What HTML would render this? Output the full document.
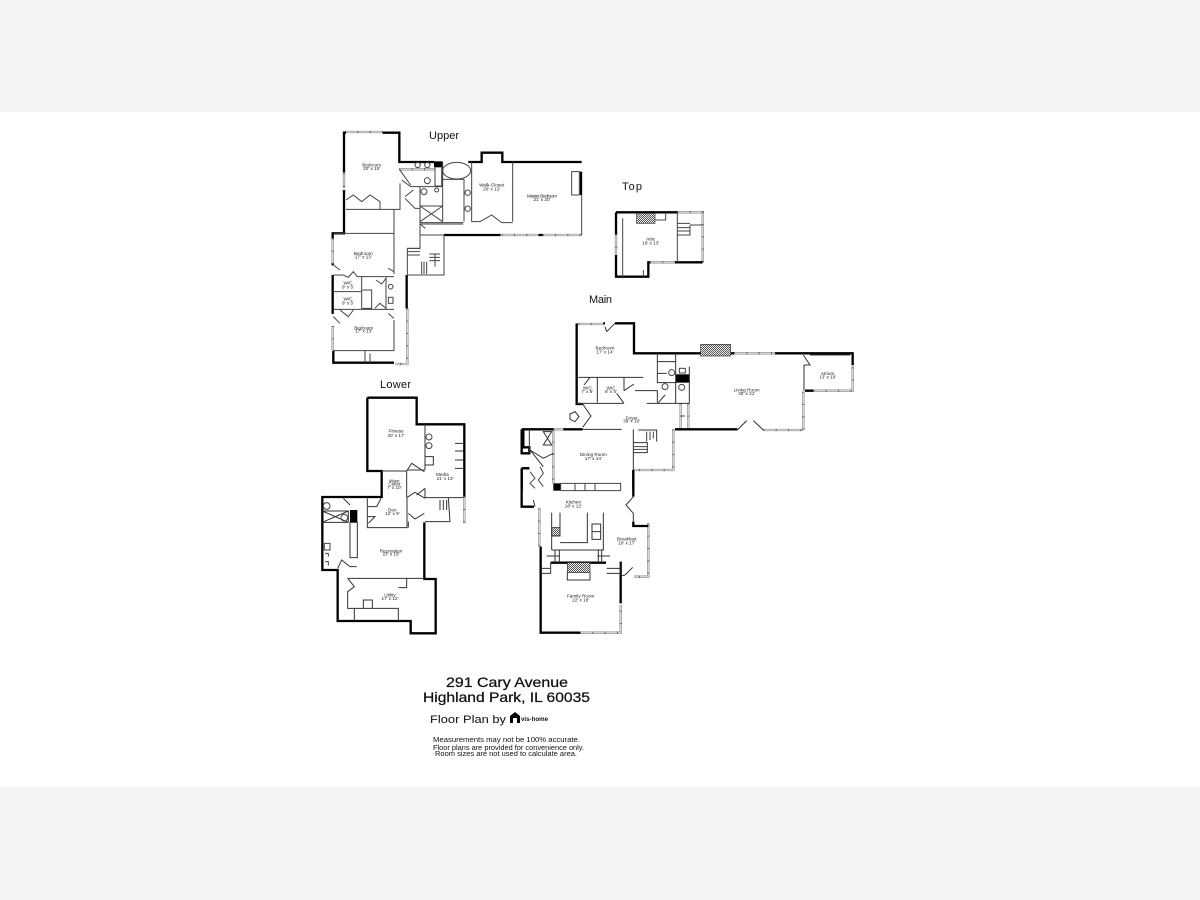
<!DOCTYPE html>
<html><head><meta charset="utf-8"><style>
html,body{margin:0;padding:0;background:#f4f4f6}
svg{display:block}
text{font-family:"Liberation Sans",sans-serif;fill:#111}
.t{fill:none;stroke:#000;stroke-width:7;stroke-linejoin:miter}
.n{fill:none;stroke:#444;stroke-width:3}
.d{fill:none;stroke:#333;stroke-width:3}
.w{fill:none;stroke:#888;stroke-width:7}
.wi{fill:none;stroke:#ddd;stroke-width:3.5}
.wt{fill:none;stroke:#666;stroke-width:7;stroke-dasharray:3 34}
.l{font-size:14px;text-anchor:middle;fill:#222}
.a{font-size:14px;stroke:#111;stroke-width:.25}
</style></head><body>
<svg width="1200" height="900" viewBox="0 0 1200 900" xmlns="http://www.w3.org/2000/svg">
<defs><pattern id="h" width="6" height="6" patternUnits="userSpaceOnUse"><rect width="6" height="6" fill="#eee"/><rect width="3" height="3" fill="#555"/><rect x="3" y="3" width="3" height="3" fill="#555"/></pattern>
<path id="wu" d="M75 36H188M72 160V205M38 355V430M38 618V690M262 565V732H225M545 345H655M668 345H785M238 148H345"/>
<path id="wp" d="M232 112H308V262M150 262H225M48 178V240"/>
<path id="wm" d="M205 102H280M672 190H795M760 420H880M880 305V420M910 302H1028V225M512 340V415M535 340V415M130 418H160M130 418V580M490 418V540H370"/>
<path id="wk" d="M88 205V320M415 250V410H372M210 578H332V495"/>
<path id="wl" d="M448 365V445"/>
</defs>
<rect width="1200" height="900" fill="#f4f4f6"/>
<rect y="112" width="1200" height="675" fill="#fff"/>

<text x="429" y="139" font-size="11" textLength="30">Upper</text>
<text x="622" y="190" font-size="11" textLength="20">Top</text>
<text x="589" y="303" font-size="11" textLength="23">Main</text>
<text x="380" y="388" font-size="11" textLength="31">Lower</text>

<!-- UPPER -->
<g transform="translate(320,120) scale(.33333)">
<use href="#wu" class="w"/><use href="#wu" class="wi"/><use href="#wu" class="wt"/>
<path class="t" d="M72 158V38H78M188 38H238V126H342M445 126H485V98H547V126H785M783 155V225M372 345H542M72 210V340H38V355M38 430V436M38 465V582M40 692V728H222M260 465V565M655 345H668"/>
<rect x="342" y="124" width="26" height="18" fill="#000"/>
<path class="n" d="M785 225V345M755 155V225H778V155ZM240 190V268H78M78 240L100 225L125 245L150 225L180 245V268M368 125V305M300 200H368M300 200V308H430M300 258H368V305M300 258L368 305M368 258L300 305M368 178H432V305M455 125V305H480L515 285L545 308H578M578 125V305M345 142V198H365V142M238 148L272 195M245 180L272 200H300M255 230L280 210M255 235L285 265H300M300 345H372V465H262V385H300V345M300 345V312L316 325M300 312H430M222 268V340M240 190V268M40 340H222V462M222 600V692H40M40 435L60 450M40 465H70L85 472L100 455L112 470H200M40 515H125M40 568H200M125 470V568M198 470V568H222M222 470H198M127 510H155V565H127M168 480L185 492L198 475M165 565L180 550L198 565M205 445L222 455M205 580L222 595M60 610L40 590M60 570L85 590L100 570M135 692V728M150 700V728M432 178V305"/>
<ellipse class="n" cx="410" cy="152" rx="42" ry="25"/>
<circle class="n" cx="293" cy="135" r="8"/><circle class="n" cx="322" cy="135" r="8"/><circle class="n" cx="322" cy="182" r="9"/><circle class="n" cx="312" cy="215" r="9"/><circle class="n" cx="350" cy="210" r="6"/><circle class="n" cx="443" cy="218" r="8"/><circle class="n" cx="443" cy="266" r="8"/><circle class="n" cx="212" cy="500" r="7"/><rect class="n" x="205" y="532" width="14" height="18"/>
<path class="n" d="M262 385H300M262 395H300M262 405H300M305 425V462M312 425V462M320 425V462M328 402H360M328 412H360M328 422H360M345 400V440"/>
<text class="l" x="155" y="139">Bedroom</text><text class="l" x="155" y="150">20' x 15'</text>
<text class="l" x="515" y="199">Walk-Closet</text><text class="l" x="515" y="211">20' x 12'</text>
<text class="l" x="666" y="232" textLength="90">Master Bedroom</text><text class="l" x="666" y="243">21' x 20'</text>
<text class="l" x="130" y="405">Bedroom</text><text class="l" x="130" y="415">17' x 13'</text>
<text class="l" x="84" y="494">WIC</text><text class="l" x="84" y="506">9' x 5'</text>
<text class="l" x="84" y="541">WIC</text><text class="l" x="84" y="553">9' x 5'</text>
<text class="l" x="131" y="628">Bedroom</text><text class="l" x="131" y="638">17' x 13'</text>
</g>

<!-- TOP -->
<g transform="translate(600,175) scale(.33333)">
<use href="#wp" class="w"/><use href="#wp" class="wi"/><use href="#wp" class="wt"/>
<path class="t" d="M48 112H232M48 178V112M48 240V305H145V262H150M225 262H308"/>
<rect x="110" y="115" width="55" height="30" fill="url(#h)" stroke="#333" stroke-width="2"/>
<path class="n" d="M68 130V310M165 135H197V112M232 112V262M232 145H270M270 150H308M270 150V180H232M232 158H270M232 168H270M130 285V305"/>
<text class="l" x="152" y="196">Attic</text><text class="l" x="152" y="208">19' x 13'</text>
</g>

<!-- MAIN -->
<g transform="translate(510,290) scale(.33333)">
<use href="#wm" class="w"/><use href="#wm" class="wi"/><use href="#wm" class="wt"/>
<path class="t" d="M280 100H285M315 100H372V190H572M662 190H672M795 190H1028V225M200 100V342H218M160 418H218M495 418H682M885 302H910M35 418H130M35 418V490H58V472H40V418M35 535V600M35 535H58M370 540V600"/>
<rect x="572" y="163" width="90" height="35" fill="url(#h)" stroke="#333" stroke-width="2"/>
<rect x="497" y="253" width="42" height="25" fill="#000"/>
<rect x="130" y="580" width="22" height="22" fill="#000"/>
<path class="n" d="M152 580H332V602H152ZM195 580V602M225 580V602M255 580V602"/>
<path class="d" d="M290 125L315 100M285 110L290 125M218 342L243 378L218 412M682 420L710 392M730 392L760 420M218 418H335M205 262H400M262 262V338M342 262V302M375 302H442V338M340 340H200M410 340H538M442 190V278H497V190M497 190V340M538 230V340M442 215H497M442 250H470M342 302L372 282M320 310L342 340M240 262L222 285M445 338L465 315M882 225V302M882 225H900L880 195M900 195H1020M370 540V418M370 458H412V488H370M385 420H440V455M58 418V490M100 425L125 465H100L125 425ZM60 480L100 530M60 480L100 505L130 490"/>
<path class="d" d="M180 372L195 365L207 380L195 395L180 388Z"/>
<circle class="n" cx="485" cy="248" r="9"/><circle class="n" cx="465" cy="290" r="9"/><circle class="n" cx="515" cy="292" r="9"/><rect class="n" x="508" y="235" width="18" height="14"/>
<path class="n" d="M410 425V455M420 425V450M430 425V445M370 470H412M370 478H412M512 378H525M60 545L75 565L60 580L75 595M90 530L100 550L85 570L100 590"/>
<text class="l" x="285" y="179">Bedroom</text><text class="l" x="285" y="190">17' x 14'</text>
<text class="l" x="232" y="298">WIC</text><text class="l" x="232" y="309">7' x 5'</text>
<text class="l" x="303" y="298">WIC</text><text class="l" x="303" y="309">8' x 5'</text>
<text class="l" x="365" y="388">Foyer</text><text class="l" x="365" y="398">39' x 10'</text>
<text class="l" x="710" y="304">Living Room</text><text class="l" x="710" y="315">35' x 21'</text>
<text class="l" x="953" y="255">Atrium</text><text class="l" x="953" y="265">13' x 10'</text>
<text class="l" x="250" y="498">Dining Room</text><text class="l" x="250" y="510">17' x 14'</text>
</g>

<!-- MAIN LOWER -->
<g transform="translate(510,440) scale(.33333)">
<use href="#wk" class="w"/><use href="#wk" class="wi"/><use href="#wk" class="wt"/>
<path class="t" d="M370 90V170M370 245V258H415M332 365V490M122 368H288M92 320V578H210M35 85V200H72M35 85H58"/>
<rect x="125" y="262" width="25" height="25" fill="url(#h)" stroke="#333" stroke-width="2"/>
<rect x="172" y="368" width="68" height="30" fill="url(#h)" stroke="#333" stroke-width="2"/>
<path class="d" d="M370 170L348 195L370 220L370 245M345 405L368 382M332 408L345 405M70 180L75 200M125 218V288M125 288H150V218M150 308H232V218M280 218V330M125 330H282M125 218V330M135 330V368M148 330V368M265 330V368M275 330V368M110 348H150M262 348H300M92 400H122V368M92 385H120M290 385H330M290 400H330V368M172 398V420H240V398M246 252H272V298H246ZM246 275H272"/>
<text class="l" x="190" y="190">Kitchen</text><text class="l" x="190" y="202">18' x 12'</text>
<text class="l" x="350" y="302">Breakfast</text><text class="l" x="350" y="313">10' x 17'</text>
<text class="l" x="212" y="472">Family Room</text><text class="l" x="212" y="484">22' x 18'</text>
</g>

<!-- LOWER -->
<g transform="translate(315,375) scale(.33333)">
<use href="#wl" class="w"/><use href="#wl" class="wi"/><use href="#wl" class="wt"/>
<path class="t" d="M157 68H305V148H448V365M157 68V288H200V366H22V585H68V738H287V775H362V612H328V442"/>
<rect x="105" y="405" width="22" height="36" fill="#000"/>
<path class="d" d="M330 148V285M200 288H275V366M275 288L290 265L328 290M330 340V368H445M276 368V458H157V370M157 425H180L160 445M157 395H185M198 370L185 395M105 442H127V548H105ZM22 442H100M22 408H100V442M22 408L100 442M100 408L22 442M85 370L105 390M68 580L80 555L105 575H125M98 610H328M275 610V638H250M98 610L118 635L98 650V700H250V735M145 675H172V700H145ZM118 700V735M275 368L300 352L330 370M280 415L300 432L328 415M330 340L305 360M280 440V458M330 285H275M400 368L405 440H330M375 375V405M385 375V405M395 375V405M420 205H445M420 228H445M420 255H445M420 280H445M330 245H355V270H330Z"/>
<circle class="n" cx="342" cy="186" r="9"/><circle class="n" cx="342" cy="212" r="9"/><circle class="n" cx="35" cy="393" r="10"/><circle class="n" cx="88" cy="428" r="10"/>
<path class="n" d="M28 505H45V525H28ZM30 535H40V545M30 560H40V572"/>
<text class="l" x="243" y="172">Fitness</text><text class="l" x="243" y="186">20' x 17'</text>
<text class="l" x="382" y="303">Media</text><text class="l" x="390" y="315">21' x 13'</text>
<text class="l" x="238" y="322">Wine</text><text class="l" x="238" y="331">Cellar</text><text class="l" x="238" y="342">7' x 10'</text>
<text class="l" x="232" y="410">Den</text><text class="l" x="232" y="420">12' x 9'</text>
<text class="l" x="228" y="532">Recreation</text><text class="l" x="228" y="542">23' x 19'</text>
<text class="l" x="225" y="665">Utility</text><text class="l" x="225" y="675">17' x 12'</text>
</g>

<!-- FOOTER -->
<text class="a" x="446" y="687" textLength="122" lengthAdjust="spacingAndGlyphs">291 Cary Avenue</text>
<text class="a" x="423" y="702" textLength="167" lengthAdjust="spacingAndGlyphs">Highland Park, IL 60035</text>
<text x="430" y="723" font-size="11" textLength="76" lengthAdjust="spacingAndGlyphs">Floor Plan by</text>
<path d="M510 723V716L515 712L520 716V723H517V718H513V723Z" fill="#000"/>
<text x="521" y="721" font-size="6.5" font-weight="bold" textLength="27" lengthAdjust="spacingAndGlyphs">vis-home</text>
<text x="433" y="742" font-size="7" fill="#333" textLength="147" lengthAdjust="spacingAndGlyphs">Measurements may not be 100% accurate.</text>
<text x="433" y="750" font-size="7" fill="#333" textLength="151" lengthAdjust="spacingAndGlyphs">Floor plans are provided for convenience only.</text>
<text x="435" y="756" font-size="7" fill="#333" textLength="142" lengthAdjust="spacingAndGlyphs">Room sizes are not used to calculate area.</text>
</svg>
</body></html>
